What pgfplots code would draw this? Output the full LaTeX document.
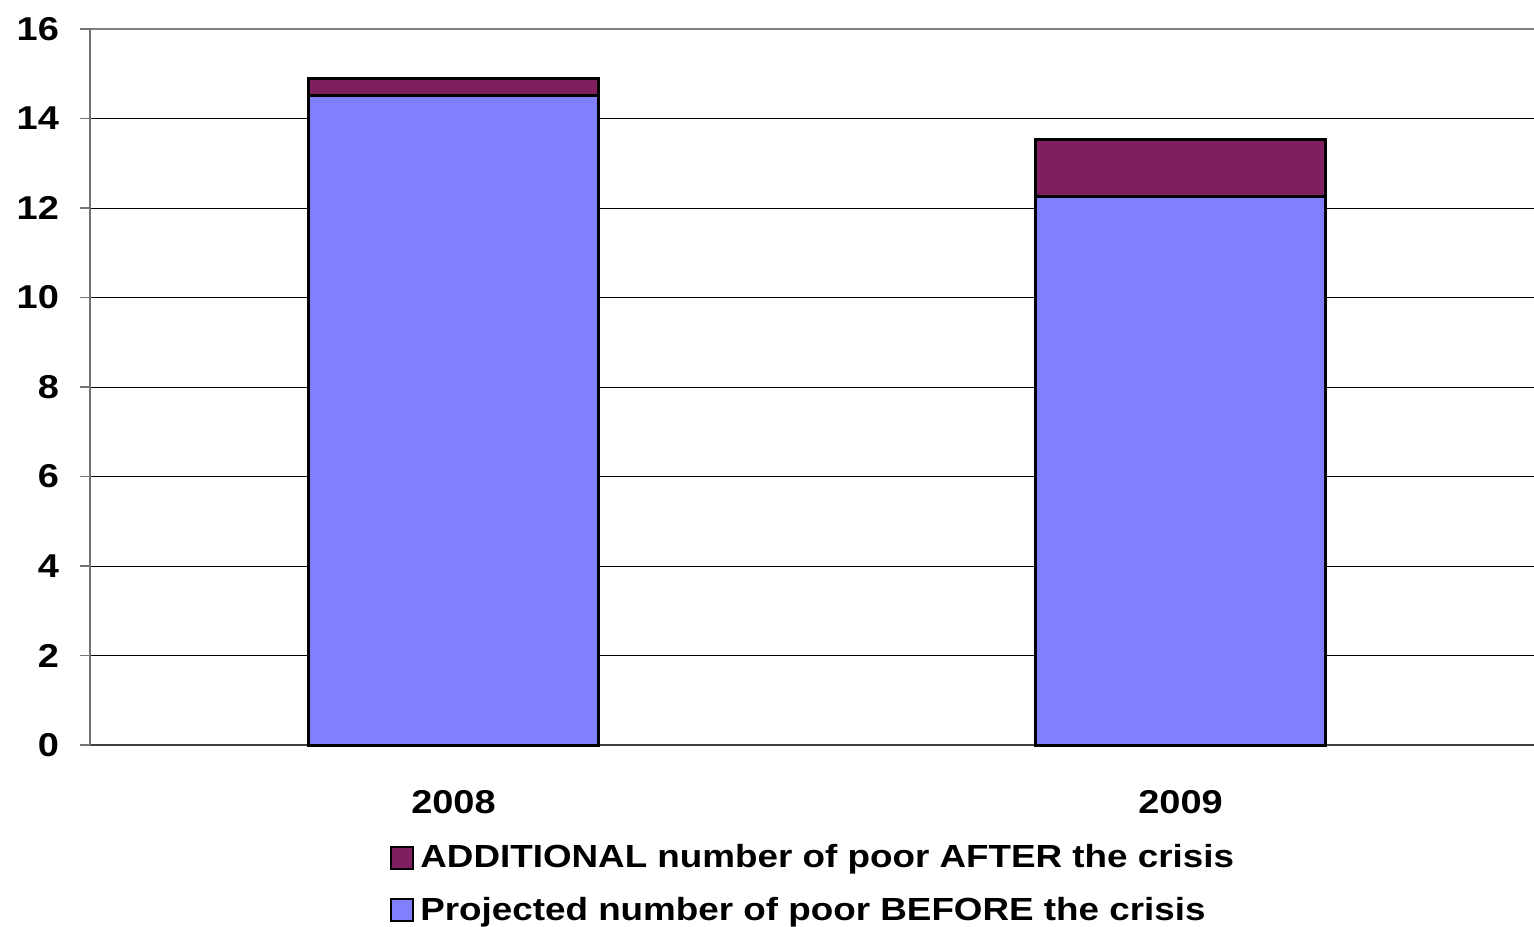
\documentclass[border=0pt]{standalone}
\usepackage{fontspec}
\setmainfont{Liberation Sans}[FakeStretch=1.15]
\usepackage{pgfplots}
\pgfplotsset{compat=1.18}
\definecolor{before}{RGB}{128,128,255}
\definecolor{after}{RGB}{127,31,95}
\begin{document}
\begin{tikzpicture}
\begin{axis}[
  at={(0,0)}, anchor=south west,
  scale only axis, width=727pt, height=358pt,
  ybar stacked, bar width=0.4,
  xmin=-0.5, xmax=1.5, ymin=0, ymax=16,
  xtick={0,1}, xticklabels={2008,2009},
  ytick={0,2,...,16},
  major x tick style={draw=none},
  extra x ticks={-0.5,0.5,1.5}, extra x tick labels={},
  extra x tick style={major tick length=6pt, tick align=outside, tick style={draw=black!70, line width=0.5pt}, grid=none},
  y tick style={draw=black!55, line width=0.8pt},
  tick align=outside, major tick length=5pt,
  ymajorgrids, major grid style={black, line width=0.5pt},
  axis line style={draw=none},
  /pgf/number format/assume math mode=true,
  ticklabel style={font=\bfseries\fontsize{16.5}{16.5}\selectfont},
  xticklabel style={yshift=-14pt},
  yticklabel style={xshift=-7pt},
  legend style={at={(0.2063,-0.133)}, anchor=north west, draw=none, fill=none,
    font=\bfseries\fontsize{16}{19}\selectfont, row sep=9pt,
    inner sep=0pt, cells={anchor=west}},
  legend image code/.code={\draw[#1, line width=1pt] (0pt,-5.5pt) rectangle (11pt,5.5pt);},
  reverse legend,
  clip=false,
]
\addplot[fill=before, draw=black, line width=1.5pt] coordinates {(0,14.52) (1,12.25)};
\addlegendentry{\hspace{1pt}Projected number of poor BEFORE the crisis}
\addplot[fill=after, draw=black, line width=1.5pt] coordinates {(0,0.38) (1,1.29)};
\addlegendentry{\hspace{1pt}ADDITIONAL number of poor AFTER the crisis}
\draw[black!55, line width=1pt] (rel axis cs:0,0) -- (rel axis cs:0,1);
\draw[black!50, line width=1pt] (rel axis cs:0,1) -- (rel axis cs:1,1);
\draw[black!75, line width=1pt] (rel axis cs:0,0) -- (rel axis cs:1,0);
\end{axis}
\pgfresetboundingbox
\path (-45pt,-90.5pt) rectangle (722pt,372.5pt);
\end{tikzpicture}
\end{document}
